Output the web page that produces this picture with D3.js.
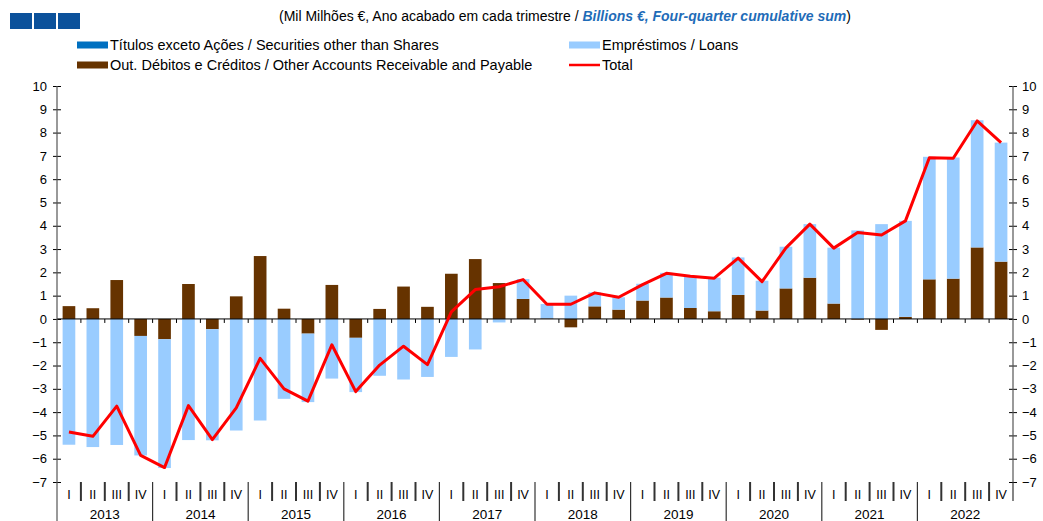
<!DOCTYPE html>
<html><head><meta charset="utf-8">
<script src="https://cdn.jsdelivr.net/npm/d3@7"></script>
<style>body{margin:0;background:#fff}svg{display:block;font-family:"Liberation Sans",Arial,sans-serif}</style>
</head><body><svg id="c" width="1043" height="521"></svg>
<script>
const years = ["2013","2014","2015","2016","2017","2018","2019","2020","2021","2022"];
const quarterLabels = ["I","II","III","IV"];
const yTicks = [-7,-6,-5,-4,-3,-2,-1,0,1,2,3,4,5,6,7,8,9,10];
// Títulos exceto Ações / Securities other than Shares
const securities = [0,0,0,0, 0,0,0,0, 0,0,0,0, 0,0,0,0, 0,0,0,0, 0,0,0,0, 0,0,0,0, 0,0,0,0, 0,0,0,0, 0,0,0,0];
// Empréstimos / Loans
const loans = [-5.40,-5.50,-5.41,-5.13, -5.53,-5.20,-4.77,-4.79, -4.36,-3.43,-2.94,-2.56, -2.33,-2.44,-2.60,-2.49,
  -1.63,-1.31,-0.15,0.85, 0.62,1.00,0.60,0.53, 0.72,1.06,1.35,1.44, 1.61,1.28,1.79,2.30, 2.40,3.80,4.07,4.12, 5.26,5.20,5.46,5.11];
// Out. Débitos e Créditos / Other Accounts Receivable and Payable
const other = [0.55,0.46,1.67,-0.73, -0.87,1.50,-0.44,0.97, 2.70,0.44,-0.63,1.46, -0.81,0.43,1.39,0.52,
  1.94,2.57,1.54,0.86, 0.02,-0.36,0.54,0.40, 0.79,0.92,0.47,0.33, 1.03,0.36,1.31,1.77, 0.66,-0.03,-0.47,0.09, 1.70,1.73,3.07,2.46];
// Total
const total = [-4.85,-5.04,-3.74,-5.86, -6.38,-3.72,-5.18,-3.82, -1.69,-3.00,-3.53,-1.11, -3.12,-1.98,-1.17,-1.96,
  0.30,1.26,1.38,1.69, 0.63,0.63,1.12,0.93, 1.47,1.96,1.83,1.75, 2.61,1.60,3.05,4.07, 3.04,3.71,3.60,4.21, 6.92,6.90,8.50,7.57];

const colors = {securities:"#0070C0", loans:"#99CCFF", other:"#663300", total:"#FF0000"};

const svg = d3.select("#c");
const L = 57, R = 1013, T = 86, B = 482;
const idx = d3.range(years.length*4);
const x = d3.scaleBand().domain(idx).range([L,R]).paddingInner(0.47).paddingOuter(0.235);
const xb = d3.scaleLinear().domain([0, idx.length]).range([L,R]);
const y = d3.scaleLinear().domain([-7,10]).range([B,T]);

const rows = idx.map(i => ({i, securities:securities[i], other:other[i], loans:loans[i]}));
const keys = ["securities","other","loans"];
const series = d3.stack().keys(keys).offset(d3.stackOffsetDiverging)(rows);

// header logo
svg.selectAll("rect.logo").data([0,1,2]).join("rect").attr("class","logo")
  .attr("x",d=>10+d*24).attr("y",13).attr("width",22).attr("height",16).attr("fill","#0B519B");

// title
const title = svg.append("text").attr("x",279).attr("y",21).attr("font-size",14).attr("fill","#000");
title.append("tspan").text("(Mil Milhões €, Ano acabado em cada trimestre / ");
title.append("tspan").attr("font-weight","bold").attr("font-style","italic").attr("fill","#1F6CB8").text("Billions €, Four-quarter cumulative sum");
title.append("tspan").text(")");

// legend
const legend = [
  {k:"securities", label:"Títulos exceto Ações / Securities other than Shares", x:77, y:45, type:"rect"},
  {k:"loans", label:"Empréstimos / Loans", x:569, y:45, type:"rect"},
  {k:"other", label:"Out. Débitos e Créditos / Other Accounts Receivable and Payable", x:77, y:65, type:"rect"},
  {k:"total", label:"Total", x:569, y:65, type:"line"}
];
legend.forEach(l=>{
  if(l.type==="rect") svg.append("rect").attr("x",l.x).attr("y",l.y-3.5).attr("width",31).attr("height",7).attr("fill",colors[l.k]);
  else svg.append("line").attr("x1",l.x).attr("x2",l.x+31).attr("y1",l.y).attr("y2",l.y).attr("stroke",colors[l.k]).attr("stroke-width",2.5);
  svg.append("text").attr("x",l.x+33).attr("y",l.y+5).attr("font-size",14.5).attr("fill","#000").text(l.label);
});

// bars
const g = svg.append("g");
series.forEach(s=>{
  g.selectAll(null).data(s).join("rect")
    .attr("x",d=>x(d.data.i)).attr("width",x.bandwidth())
    .attr("y",d=>y(Math.max(d[0],d[1]))).attr("height",d=>Math.abs(y(d[0])-y(d[1])))
    .attr("fill",colors[s.key]);
});

// zero line & category ticks
svg.append("line").attr("x1",L).attr("x2",R).attr("y1",y(0)).attr("y2",y(0)).attr("stroke","#000").attr("stroke-width",1);
svg.selectAll(null).data(d3.range(1,idx.length)).join("line")
  .attr("x1",d=>xb(d)).attr("x2",d=>xb(d)).attr("y1",y(0)).attr("y2",y(0)+4).attr("stroke","#000");

// total line
svg.append("path").datum(idx).attr("fill","none").attr("stroke",colors.total).attr("stroke-width",3).attr("stroke-linejoin","round")
  .attr("d", d3.line().x(i=>x(i)+x.bandwidth()/2).y(i=>y(total[i])));

// axes
const axL = d3.axisLeft(y).tickValues(yTicks).tickSize(0).tickPadding(10).tickFormat(d3.format("d"));
const axR = d3.axisRight(y).tickValues(yTicks).tickSize(0).tickPadding(9).tickFormat(d3.format("d"));
const gl = svg.append("g").attr("transform",`translate(${L},0)`).call(axL);
const gr = svg.append("g").attr("transform",`translate(${R},0)`).call(axR);
[gl,gr].forEach(a=>{
  a.select(".domain").remove();
  a.selectAll(".tick text").attr("font-size",13).attr("fill","#000").attr("font-family","Liberation Sans, Arial, sans-serif");
  a.selectAll(".tick").append("line").attr("x1",-4).attr("x2",4).attr("stroke","#000");
});
svg.append("line").attr("x1",L).attr("x2",L).attr("y1",T).attr("y2",521).attr("stroke","#555").attr("stroke-width",1.2);
svg.append("line").attr("x1",R).attr("x2",R).attr("y1",T).attr("y2",B).attr("stroke","#555").attr("stroke-width",1.2);

// category axis: quarter separators, numerals, years
svg.selectAll(null).data(d3.range(1,idx.length)).join("line")
  .attr("x1",d=>xb(d)).attr("x2",d=>xb(d)).attr("y1",B)
  .attr("y2",d=>d%4===0?521:501).attr("stroke","#333").attr("stroke-width",d=>d%4===0?1.2:2);
svg.append("line").attr("x1",R).attr("x2",R).attr("y1",B).attr("y2",501).attr("stroke","#333").attr("stroke-width",1.2);
svg.selectAll(null).data(idx).join("text")
  .attr("x",i=>xb(i+0.5)).attr("y",499).attr("text-anchor","middle").attr("font-size",12.5).attr("fill","#000")
  .text(i=>quarterLabels[i%4]);
svg.selectAll(null).data(years).join("text")
  .attr("x",(d,j)=>xb(j*4+2)).attr("y",518.5).attr("text-anchor","middle").attr("font-size",13.5).attr("fill","#000")
  .text(d=>d);
</script></body></html>
